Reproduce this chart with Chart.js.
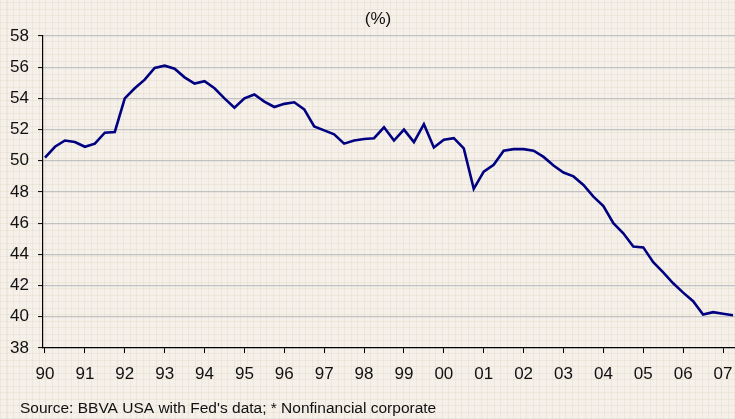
<!DOCTYPE html>
<html lang="en">
<head>
    <meta charset="UTF-8">
    <title>Debt ratio (%)</title>
    <script src="https://cdn.jsdelivr.net/npm/chart.js"></script>
    <style>
        html, body {
            margin: 0;
            padding: 0;
            width: 735px;
            height: 419px;
            overflow: hidden;
            font-family: "Liberation Sans", Arial, sans-serif;
            background-color: #f5f1ea;
            background-image:
                repeating-linear-gradient(0deg, rgba(222, 208, 186, 0.32) 0 1px, transparent 1px 6.5px),
                repeating-linear-gradient(90deg, rgba(222, 208, 186, 0.32) 0 1px, transparent 1px 6.5px);
        }

        .wrap {
            position: relative;
            width: 735px;
            height: 419px;
        }
    </style>
</head>
<body>
<div class="wrap">
    <canvas id="ratioChart" width="735" height="419"></canvas>
</div>

<script>
    // quarterly, 1990 Q1 .. 2007 Q2
    const yearLabels = ["90", "91", "92", "93", "94", "95", "96", "97", "98", "99",
        "00", "01", "02", "03", "04", "05", "06", "07"];
    const yTicks = [38, 40, 42, 44, 46, 48, 50, 52, 54, 56, 58];
    const ratio = [
        50.2, 50.9, 51.3, 51.2, 50.9, 51.1, 51.8, 51.85,
        54.0, 54.65, 55.2, 55.95, 56.1, 55.9, 55.35, 54.95,
        55.1, 54.65, 54.0, 53.4, 54.0, 54.25, 53.8, 53.45,
        53.65, 53.75, 53.3, 52.2, 51.95, 51.7, 51.1, 51.3,
        51.4, 51.45, 52.15, 51.3, 52.0, 51.2, 52.35, 50.85,
        51.35, 51.45, 50.8, 48.2, 49.3, 49.75, 50.65, 50.75,
        50.75, 50.65, 50.25, 49.7, 49.25, 49.0, 48.45, 47.7,
        47.1, 46.0, 45.35, 44.5, 44.45, 43.5, 42.85, 42.15,
        41.55, 41.0, 40.15, 40.3, 40.2, 40.1
    ];
    const title = "(%)";
    const source = "Source: BBVA USA with Fed's data; * Nonfinancial corporate";

    const points = ratio.map((v, i) => ({x: i, y: v}));

    const textPlugin = {
        id: 'texts',
        afterDraw(chart) {
            const ctx = chart.ctx;
            ctx.save();
            ctx.fillStyle = '#111';
            ctx.font = '17px "Liberation Sans", Arial, sans-serif';
            ctx.textAlign = 'center';
            ctx.textBaseline = 'alphabetic';
            ctx.fillText(title, 378, 24);
            ctx.font = '15.5px "Liberation Sans", Arial, sans-serif';
            ctx.textAlign = 'left';
            ctx.fillText(source, 20, 413);
            ctx.restore();
        }
    };

    new Chart(document.getElementById("ratioChart"), {
        type: "line",
        data: {
            datasets: [{
                data: points,
                borderColor: "#000080",
                borderWidth: 2.6,
                pointRadius: 0,
                tension: 0,
                fill: false
            }]
        },
        options: {
            responsive: false,
            animation: false,
            layout: {
                padding: {top: 36, left: 0, right: 0, bottom: 31}
            },
            plugins: {
                legend: {display: false},
                tooltip: {enabled: false},
                title: {display: false}
            },
            scales: {
                x: {
                    type: 'linear',
                    min: -0.2,
                    max: 69.2,
                    afterBuildTicks: axis => {
                        axis.ticks = yearLabels.map((l, k) => ({value: k * 4}));
                    },
                    afterFit: axis => {
                        axis.height = 40;
                        axis.paddingLeft = 0;
                        axis.paddingRight = 0;
                    },
                    ticks: {
                        autoSkip: false,
                        maxRotation: 0,
                        padding: 11,
                        color: '#111',
                        font: {family: '"Liberation Sans", Arial, sans-serif', size: 17},
                        callback: (v) => yearLabels[Math.round(v / 4)]
                    },
                    grid: {
                        drawOnChartArea: false,
                        tickLength: 5,
                        tickColor: '#000',
                        tickWidth: 1
                    },
                    border: {color: '#000', width: 1.2}
                },
                y: {
                    min: 38,
                    max: 58,
                    afterBuildTicks: axis => {
                        axis.ticks = yTicks.map(v => ({value: v}));
                    },
                    afterFit: axis => {
                        axis.width = 43;
                        axis.paddingTop = 0;
                        axis.paddingBottom = 0;
                    },
                    ticks: {
                        padding: 9,
                        color: '#111',
                        font: {family: '"Liberation Sans", Arial, sans-serif', size: 17}
                    },
                    grid: {
                        color: ctx => ctx.tick && ctx.tick.value === 38 ? 'rgba(0,0,0,0)' : '#c2c2c2',
                        lineWidth: 1.2,
                        borderDash: [9, 5],
                        tickLength: 5,
                        tickColor: '#000',
                        tickBorderDash: [],
                        tickWidth: 1
                    },
                    border: {color: '#000', width: 1.2}
                }
            }
        },
        plugins: [textPlugin]
    });
</script>
</body>
</html>
